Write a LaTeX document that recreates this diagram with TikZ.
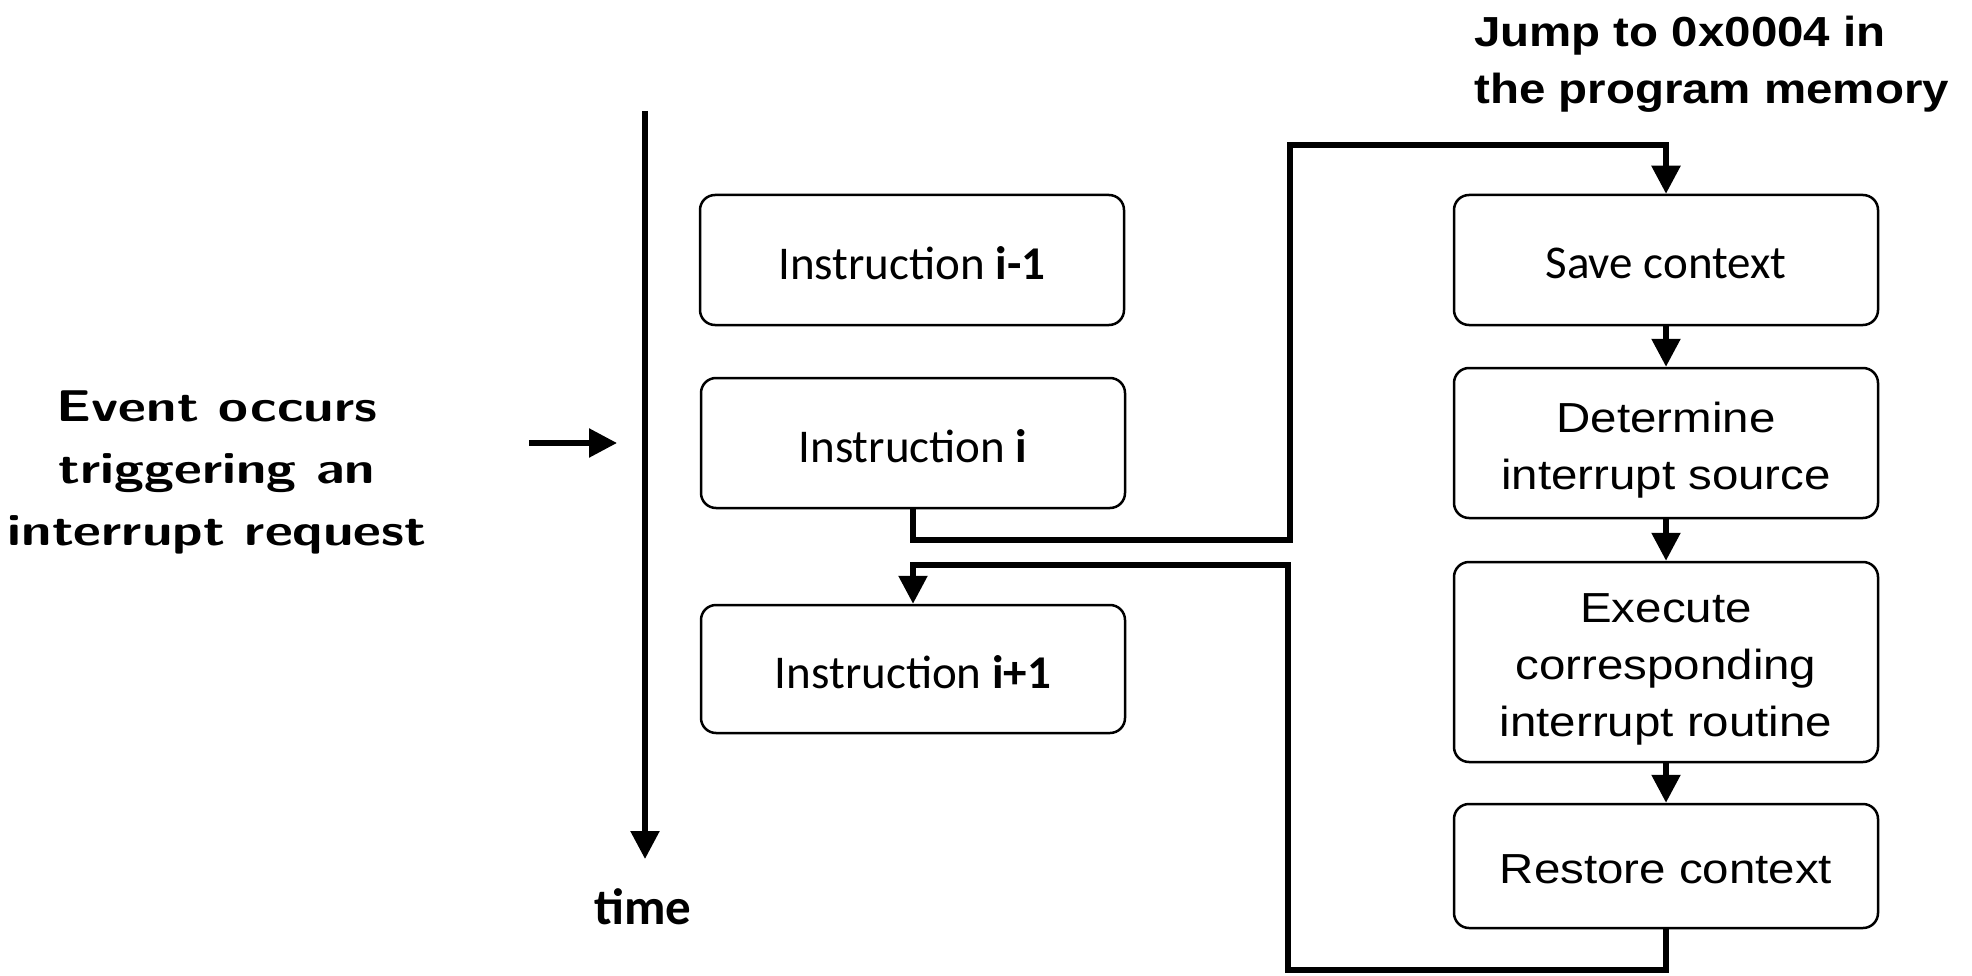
\documentclass[tikz,border=0pt]{standalone}
\usepackage{fontspec}
\usepackage{graphicx}
\setmainfont{Carlito}
\newfontfamily\arialx[FakeStretch=1.13]{Liberation Sans}
\usetikzlibrary{arrows.meta}
\newcommand\lowA[1]{\raisebox{-7pt}[\height][\depth]{#1}}
\newcommand\lowC[1]{\raisebox{-3pt}[\height][\depth]{#1}}
\tikzset{
  box/.style={draw=black, line width=2.5pt, rounded corners=15pt, minimum width=424pt,
    inner sep=0pt, align=center, font=\fontsize{47}{56}\selectfont},
  abox/.style={box, font=\arialx\fontsize{42}{57}\selectfont},
  conn/.style={line width=5.5pt, -{Triangle[length=28pt,width=28pt]}},
}
\begin{document}
\begin{tikzpicture}[x=1pt,y=-1pt]
\useasboundingbox (0,0) rectangle (1972,976);

% left text
\node (event) at (217,471) {\scalebox{1.22}[1]{\sffamily\bfseries\fontsize{44.5}{62}\selectfont
  \begin{tabular}{@{}c@{}}Event occurs\\ triggering an\\ interrupt request\end{tabular}}};
\coordinate (ea) at (529,443);
\coordinate (eb) at (617,443);
\draw[conn] (ea) -- (eb);

% time axis
\coordinate (t0) at (645,111);
\coordinate (t1) at (645,859);
\draw[conn] (t0) -- (t1);
\node[font=\bfseries\fontsize{51}{60}\selectfont] (time) at (643,907) {time};

% instruction boxes
\node[box, minimum height=130pt] (bim) at (912,260) {\lowC{Instruction \textbf{i-1}}};
\node[box, minimum height=130pt] (bi)  at (913,443) {\lowC{Instruction \textbf{i}}};
\node[box, minimum height=128pt] (bip) at (913,669) {\lowC{Instruction \textbf{i+1}}};

% interrupt routine boxes
\node[box, minimum height=130pt] (save) at (1666,260) {\lowC{Save context}};
\node[abox, minimum height=150pt] (det) at (1666,443) {\lowA{Determine}\\ \lowA{interrupt source}};
\node[abox, minimum height=200pt] (exe) at (1666,662) {\lowA{Execute}\\ \lowA{corresponding}\\ \lowA{interrupt routine}};
\node[abox, minimum height=124pt] (rest) at (1666,866) {\lowC{Restore context}};

% jump label
\node[anchor=west, align=left, inner sep=0pt, font=\arialx\bfseries\fontsize{42}{57}\selectfont]
  (jump) at (1474,64) {Jump to 0x0004 in\\ the program memory};

% chain arrows
\draw[conn] (save) -- (det);
\draw[conn] (det) -- (exe);
\draw[conn] (exe) -- (rest);

% outgoing and return paths
\coordinate (c1) at (1290,540);
\coordinate (c2) at (1290,145);
\coordinate (c3) at (1288,970);
\coordinate (c4) at (1288,565);
\draw[conn] (bi.south) |- (c1) -- (c2) -| (save.north);
\draw[conn] (rest.south) |- (c3) -- (c4) -| (bip.north);
\end{tikzpicture}
\end{document}
